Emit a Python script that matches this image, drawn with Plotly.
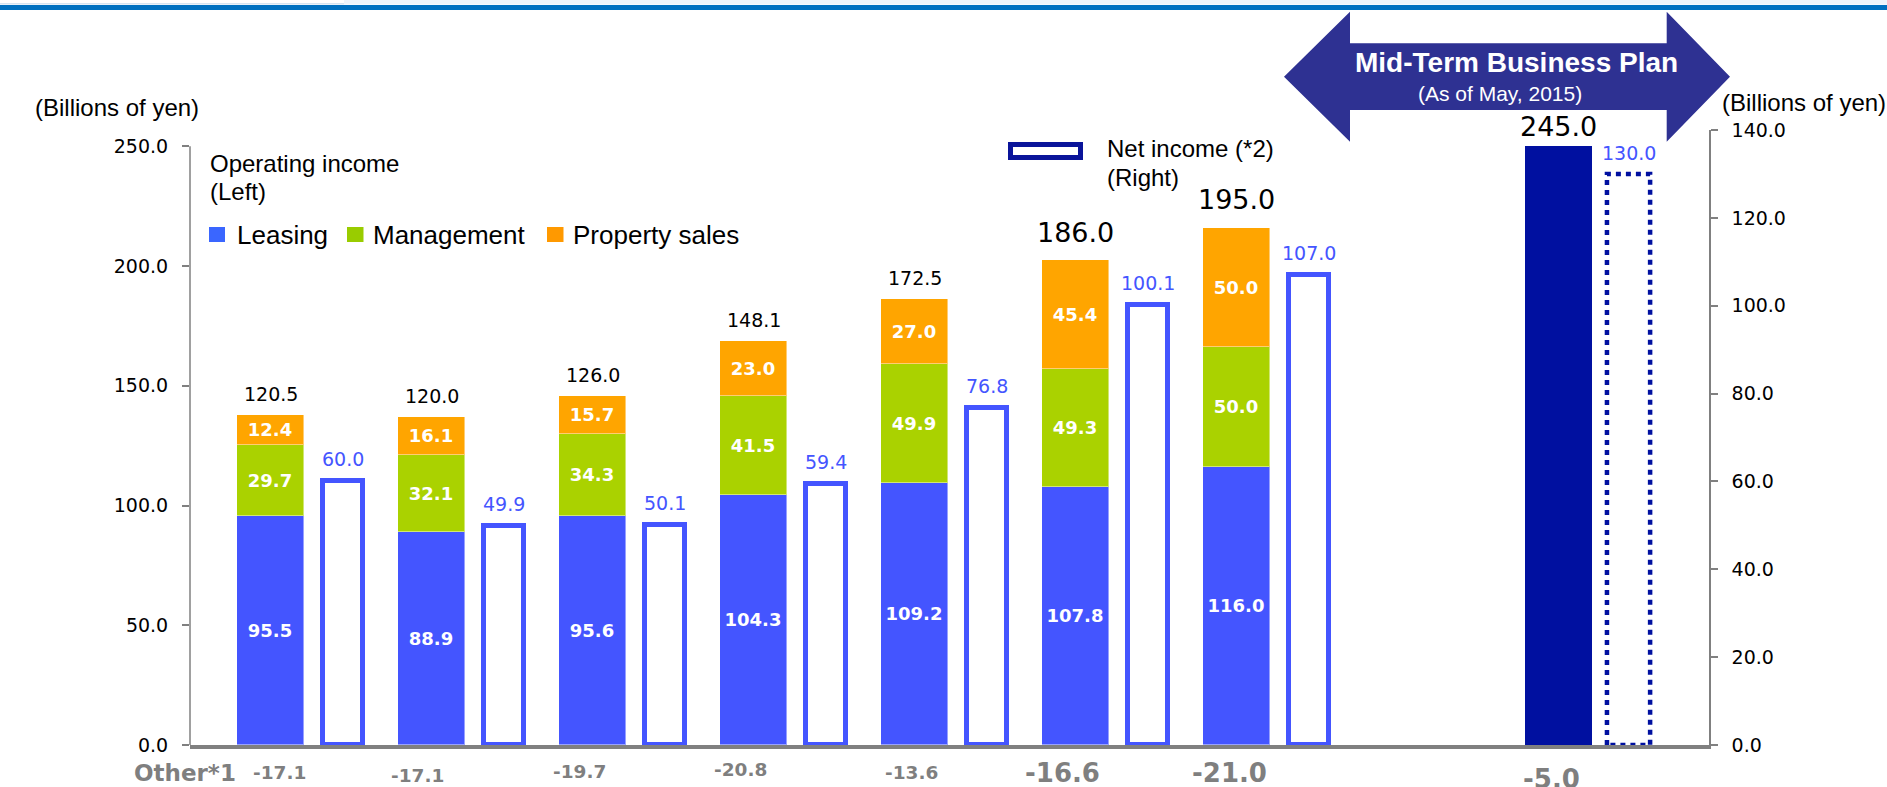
import plotly.graph_objects as go

# ---------------- data ----------------
categories = ["FY1", "FY2", "FY3", "FY4", "FY5", "FY6", "FY7"]
leasing = [95.5, 88.9, 95.6, 104.3, 109.2, 107.8, 116.0]
management = [29.7, 32.1, 34.3, 41.5, 49.9, 49.3, 50.0]
property_sales = [12.4, 16.1, 15.7, 23.0, 27.0, 45.4, 50.0]
operating_income = [120.5, 120.0, 126.0, 148.1, 172.5, 186.0, 195.0]
other = [-17.1, -17.1, -19.7, -20.8, -13.6, -16.6, -21.0]
net_income = [60.0, 49.9, 50.1, 59.4, 76.8, 100.1, 107.0]

plan_operating_income = 245.0
plan_other = -5.0
plan_net_income = 130.0

left_ticks = [0, 50, 100, 150, 200, 250]
right_ticks = [0, 20, 40, 60, 80, 100, 120, 140]

# ---------------- layout geometry / style ----------------
W, H = 1887, 787
L, R, T, B = 190, 178, 130, 42
PW, PH = W - L - R, H - T - B
PX_PER_CAT = 161.0
X0 = -0.5
X1 = X0 + PW / PX_PER_CAT
LEFT_PX_PER_UNIT = 2.395
LEFT_MAX = PH / LEFT_PX_PER_UNIT
RIGHT_MAX = 140

C_LEASE = "#4455FF"
C_MGMT = "#AAD200"
C_PROP = "#FFA500"
C_PLAN = "#0010A0"
C_NI = "#4455FF"
C_GRAY = "#7F7F7F"
NUM = "DejaVu Sans"
ARIAL = "Liberation Sans, Arial, sans-serif"

STACK_W = 0.42
NI_W = 0.248
NI_OFF = 0.45
PLAN_NI_W = 0.268
PLAN_NI_OFF = 0.435

idx = list(range(len(categories)))
plan_x = len(categories) + 1


def fx(px):
    return (px - L) / PW


def fy(py):
    return (H - B - py) / PH


def txt(text, x, y, size, color="black", family=ARIAL, bold=False,
        xanchor="center", yanchor="middle"):
    return dict(text=text, xref="paper", yref="paper", x=fx(x), y=fy(y),
                xanchor=xanchor, yanchor=yanchor, showarrow=False,
                font=dict(size=size, color=color, family=family,
                          weight="bold" if bold else "normal"))


fig = go.Figure()

seg_line = dict(width=1, color="rgba(255,255,255,0.45)")
for vals, col in [(leasing, C_LEASE), (management, C_MGMT), (property_sales, C_PROP)]:
    fig.add_trace(go.Bar(
        x=idx, y=vals, width=STACK_W, offset=-STACK_W / 2,
        marker=dict(color=col, line=seg_line),
        text=[f"{v:.1f}" for v in vals], textposition="inside",
        insidetextanchor="middle", textangle=0, constraintext="none",
        textfont=dict(family=NUM, size=18, color="white", weight="bold"),
        hoverinfo="skip"))

plan_bar = plan_operating_income - plan_other
fig.add_trace(go.Bar(
    x=[plan_x], y=[plan_bar], width=STACK_W, offset=-STACK_W / 2,
    marker=dict(color=C_PLAN, line=dict(width=0)), hoverinfo="skip"))

fig.add_trace(go.Bar(
    x=idx, y=net_income, yaxis="y2", width=NI_W, offset=NI_OFF - NI_W / 2,
    marker=dict(color="white", line=dict(color=C_NI, width=5)),
    hoverinfo="skip"))

# dotted plan net-income bar outline
px0 = plan_x + PLAN_NI_OFF - PLAN_NI_W / 2
px1 = plan_x + PLAN_NI_OFF + PLAN_NI_W / 2
fig.add_trace(go.Scatter(
    x=[px0, px0, px1, px1, px0], y=[0, plan_net_income, plan_net_income, 0, 0],
    yaxis="y2", mode="lines",
    line=dict(color=C_PLAN, width=4.5, dash="5px,5px"), hoverinfo="skip"))

annotations = []

# totals above stacks
totals = [a + b + c for a, b, c in zip(leasing, management, property_sales)]
total_shift = [21, 21, 21, 21, 21, 28, 28]
total_size = [19, 19, 19, 19, 19, 27, 27]
for i, (tot, lab) in enumerate(zip(totals, operating_income)):
    annotations.append(dict(
        text=f"{lab:.1f}", xref="x", yref="y", x=i, y=tot, yshift=total_shift[i],
        xanchor="center", yanchor="middle", showarrow=False,
        font=dict(family=NUM, size=total_size[i], color="black")))
annotations.append(dict(
    text=f"{plan_operating_income:.1f}", xref="x", yref="y", x=plan_x, y=plan_bar,
    yshift=20, xanchor="center", yanchor="middle", showarrow=False,
    font=dict(family=NUM, size=27, color="black")))

# net income labels
for i, v in enumerate(net_income):
    annotations.append(dict(
        text=f"{v:.1f}", xref="x", yref="y2", x=i + NI_OFF, y=v, yshift=22,
        xanchor="center", yanchor="middle", showarrow=False,
        font=dict(family=NUM, size=19, color=C_NI)))
annotations.append(dict(
    text=f"{plan_net_income:.1f}", xref="x", yref="y2", x=plan_x + PLAN_NI_OFF,
    y=plan_net_income, yshift=21, xanchor="center", yanchor="middle",
    showarrow=False, font=dict(family=NUM, size=19, color=C_NI)))

# "Other" row
other_dx_px = [9, -14, -13, -13, -3, -13, -7]
other_cy = [773, 776, 771.5, 769.5, 772.5, 772.5, 773]
other_size = [18.5, 18.5, 18.5, 18.5, 18.5, 26, 26]
for i, v in enumerate(other):
    annotations.append(dict(
        text=f"{v:.1f}", xref="x", yref="paper", x=i + other_dx_px[i] / PX_PER_CAT,
        y=fy(other_cy[i]), xanchor="center", yanchor="middle", showarrow=False,
        font=dict(family=NUM, size=other_size[i], color=C_GRAY, weight="bold")))
annotations.append(dict(
    text=f"{plan_other:.1f}", xref="x", yref="paper", x=plan_x - 7 / PX_PER_CAT,
    y=fy(779), xanchor="center", yanchor="middle", showarrow=False,
    font=dict(family=NUM, size=26, color=C_GRAY, weight="bold")))
annotations.append(txt("Other*1", 185, 772.5, 23, C_GRAY, NUM, bold=True))

# axis unit labels
annotations.append(txt("(Billions of yen)", 33, 107, 24, xanchor="left"))
annotations.append(txt("(Billions of yen)", 1720, 102.5, 24, xanchor="left"))

# legend texts
annotations.append(txt("Operating income", 208, 163.5, 24, xanchor="left"))
annotations.append(txt("(Left)", 208, 191, 24, xanchor="left"))
annotations.append(txt("Leasing", 235, 235, 26, xanchor="left"))
annotations.append(txt("Management", 371, 235, 26, xanchor="left"))
annotations.append(txt("Property sales", 571, 235, 26, xanchor="left"))
annotations.append(txt("Net income (*2)", 1105, 148, 24, xanchor="left"))
annotations.append(txt("(Right)", 1105, 177, 24, xanchor="left"))

# mid-term plan arrow texts
annotations.append(txt("Mid-Term Business Plan", 1516, 62.5, 28, "white", bold=True))
annotations.append(txt("(As of May, 2015)", 1500, 94, 21, "white"))

shapes = []


def rect_px(x0, y0, x1, y1, fill, line_color=None, lw=0):
    return dict(type="rect", xref="paper", yref="paper",
                x0=fx(x0), x1=fx(x1), y0=fy(y0), y1=fy(y1),
                fillcolor=fill, line=dict(width=lw, color=line_color or fill),
                layer="above")


# top header band
shapes.append(rect_px(344, 0, W, 4.5, "#EEF4FB"))
shapes.append(rect_px(0, 3, 344, 4.5, "#D6E4F2"))
shapes.append(rect_px(0, 5, W, 10, "#0070C0"))

# legend markers
shapes.append(rect_px(209, 227, 225, 242, "#3A66FF"))
shapes.append(rect_px(347, 227, 363.5, 242, "#99CC00"))
shapes.append(rect_px(547, 227, 563.5, 242, "#FF9900"))
shapes.append(dict(type="rect", xref="paper", yref="paper",
                   x0=fx(1010.5), x1=fx(1080.5), y0=fy(144.5), y1=fy(157.5),
                   fillcolor="white", line=dict(width=5, color="#0A149A"), layer="above"))

# double arrow
pts = [(1284, 76.7), (1350, 11.7), (1350, 43.3), (1666.7, 43.3), (1666.7, 11.7),
       (1730, 76.7), (1666.7, 141.7), (1666.7, 110), (1350, 110), (1350, 141.7)]
path = "M " + " L ".join(f"{fx(x):.5f},{fy(y):.5f}" for x, y in pts) + " Z"
shapes.append(dict(type="path", xref="paper", yref="paper", path=path,
                   fillcolor="#2E3192", line=dict(width=0), layer="below"))

# left axis line (only up to the top tick)
shapes.append(dict(type="line", xref="paper", yref="y", x0=0, x1=0,
                   y0=left_ticks[0], y1=left_ticks[-1],
                   line=dict(color="#808080", width=1.5), layer="above"))

fig.update_layout(
    template="none",
    width=W, height=H,
    margin=dict(l=L, r=R, t=T, b=B, pad=0, autoexpand=False),
    paper_bgcolor="white", plot_bgcolor="rgba(0,0,0,0)",
    barmode="stack", bargap=0, showlegend=False,
    xaxis=dict(range=[X0, X1], showticklabels=False, ticks="", showgrid=False,
               zeroline=False, showline=True, linecolor="#808080", linewidth=4,
               automargin=False, fixedrange=True),
    yaxis=dict(range=[0, LEFT_MAX], tickvals=left_ticks,
               ticktext=[f"{v:.1f}" for v in left_ticks], ticks="outside",
               ticklen=7, tickwidth=1.5, tickcolor="#808080", showline=False,
               showgrid=False, zeroline=False, ticklabelstandoff=10,
               tickfont=dict(family=NUM, size=19, color="black"), automargin=False),
    yaxis2=dict(range=[0, RIGHT_MAX], overlaying="y", side="right",
                tickvals=right_ticks, ticktext=[f"{v:.1f}" for v in right_ticks],
                ticks="outside", ticklen=7, tickwidth=1.5, tickcolor="#808080",
                showline=True, linecolor="#808080", linewidth=1.5, showgrid=False,
                zeroline=False, ticklabelstandoff=10,
                tickfont=dict(family=NUM, size=19, color="black"), automargin=False),
    annotations=annotations,
    shapes=shapes,
)

fig.write_html(
    "out.html",
    config={"displayModeBar": False},
    post_script="document.body.style.margin='0px';document.body.style.padding='0px';"
                "document.body.style.overflow='hidden';",
)
